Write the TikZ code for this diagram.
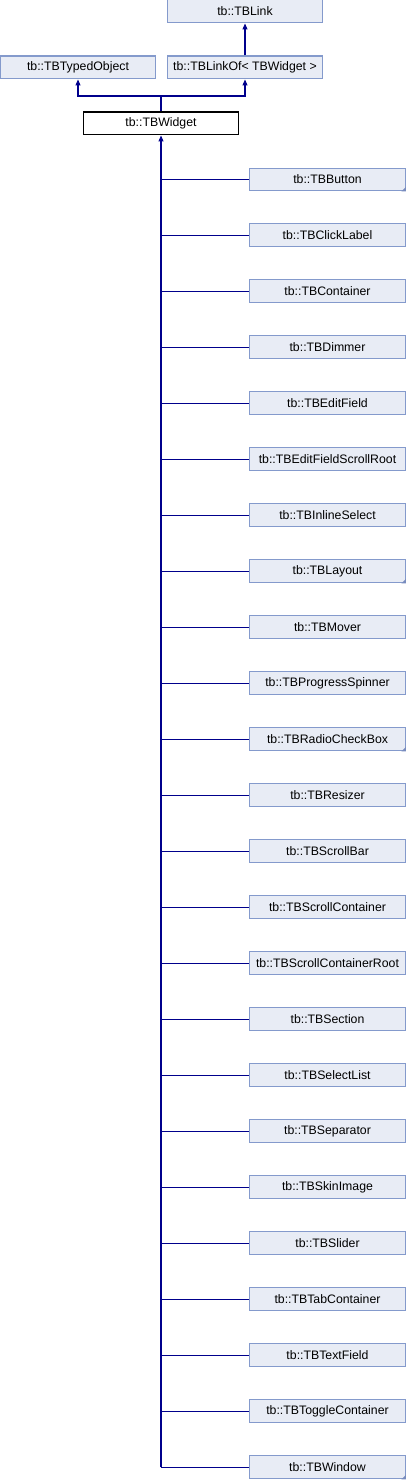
\documentclass[tikz,border=0pt]{standalone}
\usepackage{fontspec}
\setmainfont{Liberation Sans}
\usetikzlibrary{arrows.meta,positioning}
\definecolor{dgBoxFill}{RGB}{232, 236, 245}
\definecolor{dgBoxEdge}{RGB}{132, 154, 204}
\definecolor{dgNavy}{RGB}{0, 0, 140}
\definecolor{dgCorner}{RGB}{120, 140, 190}

\begin{document}
\begin{tikzpicture}[
  x=0.02cm, y=-0.02cm,
  cls/.style={draw=dgBoxEdge,fill=dgBoxFill,line width=0.57pt,minimum width=3.12cm,minimum height=0.46cm,inner sep=0pt,font=\fontsize{7pt}{8pt}\selectfont},
  self/.style={cls,draw=black,fill=white},
  inherit/.style={-{Triangle[length=0.12cm,width=0.1cm]},dgNavy,line width=0.6pt},
  edge/.style={dgNavy,line width=0.6pt}
]
  \useasboundingbox (0,0) rectangle (407,1480);
  % base classes
  \node[cls] (link) at (245,11.5) {tb::TBLink};
  \node[cls] (typed) at (78,67.5) {tb::TBTypedObject};
  \node[cls] (linkof) at (245,67.5) {tb::TBLinkOf< TBWidget >};
  \node[self] (widget) at (161,123.5) {tb::TBWidget};
  \coordinate (join) at (161,96);
  \draw[inherit] (linkof) -- (link);
  \draw[edge] (widget.north) -- (join);
  \draw[inherit] (join) -| (typed.south);
  \draw[inherit] (join) -| (linkof.south);

  % derived classes
  \node[cls] (c1) at (327.5,179.5) {tb::TBButton};
  \foreach \name [count=\i from 2, evaluate=\i as \prev using int(\i-1)] in {
      TBClickLabel, TBContainer, TBDimmer, TBEditField, TBEditFieldScrollRoot,
      TBInlineSelect, TBLayout, TBMover, TBProgressSpinner, TBRadioCheckBox,
      TBResizer, TBScrollBar, TBScrollContainer, TBScrollContainerRoot, TBSection,
      TBSelectList, TBSeparator, TBSkinImage, TBSlider, TBTabContainer,
      TBTextField, TBToggleContainer, TBWindow} {
    \node[cls,below=0.64cm of c\prev] (c\i) {tb::\name};
  }
  % folded corners
  \foreach \i in {1,8,11,24} {
    \fill[dgCorner] (c\i.south east) -- ++(-4.5,0) -- ++(4.5,-4.5) -- cycle;
  }
  \coordinate (trunk) at (c24.west -| widget.south);
  \draw[inherit] (trunk) -- (widget.south);
  \foreach \i in {1,...,24} {
    \draw[edge] (c\i.west) -- (c\i.west -| widget.south);
  }
\end{tikzpicture}
\end{document}
